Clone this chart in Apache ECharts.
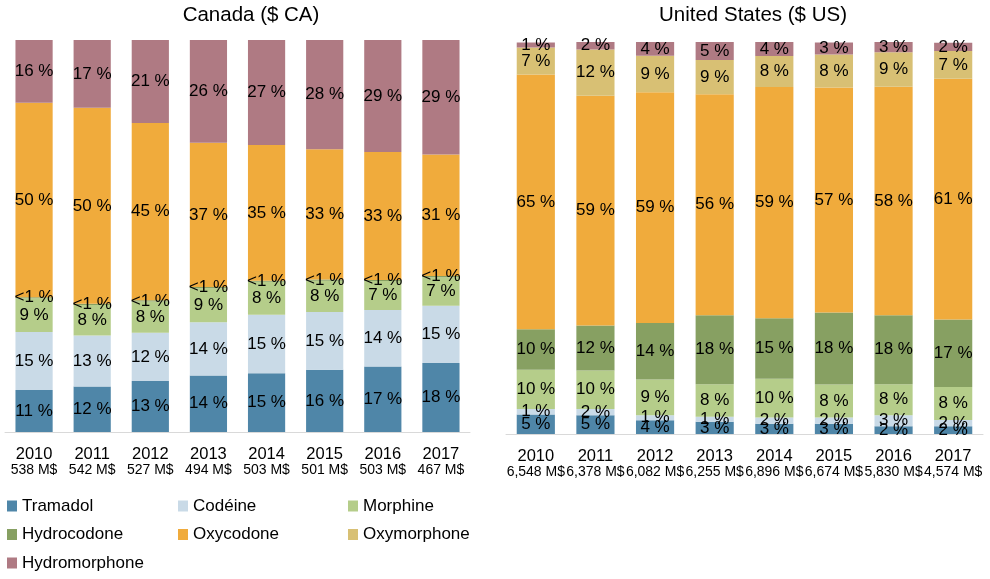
<!DOCTYPE html>
<html>
<head>
<meta charset="utf-8">
<script src="https://cdn.jsdelivr.net/npm/echarts@6/dist/echarts.min.js"></script>
<style>html,body{margin:0;padding:0;background:#fff;}#c{width:990px;height:579px;}</style>
</head>
<body>
<div id="c"></div>
<script>
const years = ['2010','2011','2012','2013','2014','2015','2016','2017'];
const caTotals = ['538 M$','542 M$','527 M$','494 M$','503 M$','501 M$','503 M$','467 M$'];
const usTotals = ['6,548 M$','6,378 M$','6,082 M$','6,255 M$','6,896 M$','6,674 M$','5,830 M$','4,574 M$'];
const seriesNames = ['Tramadol','Codéine','Morphine','Hydrocodone','Oxycodone','Oxymorphone','Hydromorphone'];
const colors = ['#4F86A8','#C9DAE7','#B5CD8A','#87A062','#F0AB3C','#D8C074','#AF7A83'];

// Canada shares (%)
const caTramadol      = [10.7, 11.6, 13.0, 14.4, 15.0, 15.9, 16.7, 17.6];
const caCodeine       = [14.8, 13.0, 12.3, 13.6, 14.9, 14.7, 14.4, 14.6];
const caMorphine      = [8.6, 7.8, 8.0, 8.7, 8.4, 8.0, 7.4, 7.3];
const caHydrocodone   = [0.3, 0.3, 0.3, 0.3, 0.3, 0.3, 0.3, 0.3];
const caOxycodone     = [49.6, 50.0, 45.2, 36.8, 34.6, 33.2, 32.6, 31.0];
const caOxymorphone   = [0, 0, 0, 0, 0, 0, 0, 0];
const caHydromorphone = [16.0, 17.3, 21.2, 26.3, 27.0, 28.0, 28.8, 29.3];

// United States shares (%)
const usTramadol      = [5.0, 4.8, 3.5, 3.1, 2.6, 2.6, 2.0, 2.0];
const usCodeine       = [1.4, 1.6, 1.3, 1.3, 1.6, 1.6, 2.8, 1.6];
const usMorphine      = [10.0, 9.8, 9.1, 8.3, 9.9, 8.4, 7.9, 8.4];
const usHydrocodone   = [10.3, 11.5, 14.4, 17.6, 15.4, 18.4, 17.6, 17.2];
const usOxycodone     = [65.0, 58.6, 58.9, 56.4, 59.0, 57.4, 58.3, 61.4];
const usOxymorphone   = [6.9, 11.8, 9.3, 8.7, 7.9, 8.4, 8.8, 7.1];
const usHydromorphone = [1.3, 2.0, 3.6, 4.7, 3.8, 3.1, 2.6, 2.1];

const caData = [caTramadol, caCodeine, caMorphine, caHydrocodone, caOxycodone, caOxymorphone, caHydromorphone];
const usData = [usTramadol, usCodeine, usMorphine, usHydrocodone, usOxycodone, usOxymorphone, usHydromorphone];

const FONT = '"Liberation Sans", Arial, sans-serif';

function labelFmt(p) {
  const v = p.value;
  if (!v) return '';
  if (v < 1) return '<1 %';
  return Math.round(v) + ' %';
}

function makeSeries(dataSet, idx, stackName) {
  return seriesNames.map((name, i) => ({
    name: name,
    type: 'bar',
    stack: stackName,
    xAxisIndex: idx,
    yAxisIndex: idx,
    barWidth: '64%',
    data: dataSet[i],
    itemStyle: { color: colors[i] },
    label: {
      show: true,
      position: 'inside',
      formatter: labelFmt,
      color: '#000',
      fontSize: 17,
      fontFamily: FONT
    },
    emphasis: { disabled: true }
  }));
}

function xAxisFor(idx, totals) {
  return {
    type: 'category',
    gridIndex: idx,
    data: years,
    axisTick: { show: false },
    axisLine: { lineStyle: { color: '#D9D9D9', width: 1 } },
    axisLabel: {
      interval: 0,
      margin: 14,
      formatter: function (v, i) { return '{a|' + v + '}\n{b|' + totals[i] + '}'; },
      rich: {
        a: { fontSize: 16.5, lineHeight: 17, color: '#000', fontFamily: FONT },
        b: { fontSize: 14, lineHeight: 15, color: '#000', fontFamily: FONT }
      }
    }
  };
}

function yAxisFor(idx) {
  return {
    type: 'value', gridIndex: idx, min: 0, max: 100,
    show: false, splitLine: { show: false }
  };
}

const legendText = { fontSize: 17, color: '#000', fontFamily: FONT, lineHeight: 20 };
function legendCol(left, names) {
  return {
    orient: 'vertical', left: left, top: 496, height: 83, padding: 0,
    data: names, icon: 'rect', itemWidth: 10, itemHeight: 11, itemGap: 8.5,
    textStyle: legendText, selectedMode: false
  };
}

const chart = echarts.init(document.getElementById('c'), null, { renderer: 'canvas' });
chart.setOption({
  animation: false,
  backgroundColor: '#fff',
  title: [
    { text: 'Canada ($ CA)', left: 246, top: 0, textAlign: 'center',
      textStyle: { fontSize: 20.5, fontWeight: 'normal', color: '#000', fontFamily: FONT } },
    { text: 'United States ($ US)', left: 748, top: 0, textAlign: 'center',
      textStyle: { fontSize: 20.5, fontWeight: 'normal', color: '#000', fontFamily: FONT } }
  ],
  legend: [
    legendCol(7, ['Tramadol', 'Hydrocodone', 'Hydromorphone']),
    legendCol(178, ['Codéine', 'Oxycodone']),
    legendCol(348, ['Morphine', 'Oxymorphone'])
  ],
  grid: [
    { left: 5, width: 465, top: 40, height: 392 },
    { left: 506, width: 477, top: 42, height: 392 }
  ],
  xAxis: [xAxisFor(0, caTotals), xAxisFor(1, usTotals)],
  yAxis: [yAxisFor(0), yAxisFor(1)],
  series: makeSeries(caData, 0, 'ca').concat(makeSeries(usData, 1, 'us'))
});
</script>
</body>
</html>
